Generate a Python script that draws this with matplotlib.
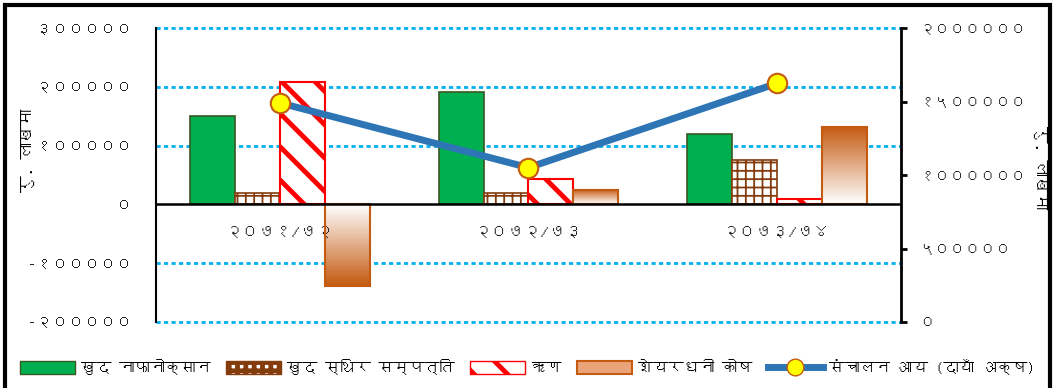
import matplotlib
matplotlib.use("Agg")
import matplotlib.pyplot as plt
import numpy as np
from matplotlib import font_manager
from matplotlib.ft2font import FT2Font
from matplotlib.patches import Patch, Rectangle
from matplotlib.lines import Line2D
from matplotlib.colors import LinearSegmentedColormap

# pick a font with Devanagari if one is installed
deva = None
for f in font_manager.fontManager.ttflist:
    try:
        if FT2Font(f.fname).get_char_index(0x0915):
            deva = f.name
            break
    except Exception:
        pass
plt.rcParams['font.family'] = [deva, 'DejaVu Sans'] if deva else ['DejaVu Sans']

# data
years = ['२०७१/७२', '२०७२/७३', '२०७३/७४']
net_profit = [151000, 191500, 120500]
fixed_assets = [20000, 20000, 75000]
loans = [208500, 42500, 9000]
equity = [-139000, 24000, 131500]
op_income = [1490000, 1050000, 1623000]
series_names = ['खुद नाफानोक्सान', 'खुद स्थिर सम्पत्ति', 'ऋण', 'शेयरधनी कोष',
                'संचालन आय (दायाँ अक्ष)']
left_ticks = [-200000, -100000, 0, 100000, 200000, 300000]
right_ticks = [0, 500000, 1000000, 1500000, 2000000]
ylabel = 'रु. लाखमा'

dev = str.maketrans('0123456789', '०१२३४५६७८९')


def to_dev(v):
    return str(v).translate(dev)


def hatch_lw(patches, lw):
    for p in patches:
        if hasattr(p, 'set_hatch_linewidth'):
            p.set_hatch_linewidth(lw)


fig = plt.figure(figsize=(10.55, 3.88), dpi=100)
ax = fig.add_axes([156 / 1055, 1 - 322 / 388, 745 / 1055, 294 / 388])

x = np.arange(len(years))
w = 0.181
ax.bar(x - 1.5 * w, net_profit, w, color='#00B050', edgecolor='#385723', lw=1.2, zorder=3)
plt.rcParams['hatch.linewidth'] = 3.5
fa = ax.bar(x - 0.5 * w, fixed_assets, w, color='white', edgecolor='#843C0C',
            hatch='++', lw=1.2, zorder=3)
hatch_lw(fa.patches, 1.3)
ln = ax.bar(x + 0.5 * w, loans, w, color='white', edgecolor='#FF0000',
            hatch='\\', lw=1.5, zorder=3)
hatch_lw(ln.patches, 3.5)
eq = ax.bar(x + 1.5 * w, equity, w, color='none', edgecolor='#C55A11', lw=1.5, zorder=4)

cmap = LinearSegmentedColormap.from_list('sh', ['#FFFFFF', '#C55A11'])
grad = np.linspace(0, 1, 100).reshape(-1, 1)
for rect, v in zip(eq.patches, equity):
    x0 = rect.get_x()
    if v >= 0:
        im = ax.imshow(grad, extent=(x0, x0 + w, 0, v), origin='lower', cmap=cmap,
                       aspect='auto', zorder=3)
    else:
        im = ax.imshow(grad, extent=(x0, x0 + w, v, 0), origin='upper', cmap=cmap,
                       aspect='auto', zorder=3)
    im.set_clip_path(rect)

ax.set_xlim(-0.5, 2.5)
ax.set_ylim(-200000, 300000)
ax.set_yticks(left_ticks)
ax.set_yticklabels([to_dev(t) for t in left_ticks], fontsize=11.5, color='#222222')
ax.tick_params(axis='y', length=0, pad=17)
ax.set_xticks([])
for y in left_ticks:
    if y != 0:
        ax.axhline(y, color='#00B0F0', lw=2, ls=(0, (1.5, 1.2)), zorder=1, clip_on=False)
ax.axhline(0, color='black', lw=1.8, zorder=5)
for s in ['top', 'bottom', 'right']:
    ax.spines[s].set_visible(False)
ax.spines['left'].set_linewidth(1.5)
for i, yr in enumerate(years):
    ax.text(i, -50000, yr, ha='center', va='center', fontsize=12, color='#222222')

ax2 = ax.twinx()
ax2.plot(x, op_income, color='#2E75B6', lw=5, marker='o', ms=14, mfc='#FFFF00',
         mec='#C55A11', mew=1.5, zorder=6, clip_on=False)
ax2.set_ylim(0, 2000000)
ax2.set_yticks(right_ticks)
ax2.set_yticklabels([to_dev(t) for t in right_ticks], fontsize=11, color='#222222')
ax2.tick_params(axis='y', length=4, width=2, pad=9)
for s in ['top', 'bottom', 'left']:
    ax2.spines[s].set_visible(False)
ax2.spines['right'].set_linewidth(2)

fig.text(28 / 1055, 1 - 150 / 388, ylabel, rotation=90, ha='center', va='center', fontsize=12)
fig.text(1040 / 1055, 1 - 168 / 388, ylabel, rotation=270, ha='center', va='center', fontsize=12)

handles = [
    Patch(facecolor='#00B050', edgecolor='#385723'),
    Patch(facecolor='white', edgecolor='#843C0C', hatch='++'),
    Patch(facecolor='white', edgecolor='#FF0000', hatch='\\'),
    Patch(facecolor='#EBA47A', edgecolor='#C55A11', lw=1.5),
    Line2D([], [], color='#2E75B6', lw=5, marker='o', ms=12, mfc='#FFFF00', mec='#C55A11'),
]
hatch_lw(handles[1:2], 1.3)
fig.legend(handles, series_names, loc='center', bbox_to_anchor=(0.5, 1 - 367 / 388),
           ncol=5, frameon=False, fontsize=11, handlelength=3.6, handleheight=0.9,
           columnspacing=1.0, handletextpad=0.4)

fig.patches.append(Rectangle((5 / 1055, -0.1), 1045 / 1055, 1.1 - 5 / 388, fill=False,
                             edgecolor='black', lw=3, transform=fig.transFigure))

fig.savefig('out.png', dpi=100)
